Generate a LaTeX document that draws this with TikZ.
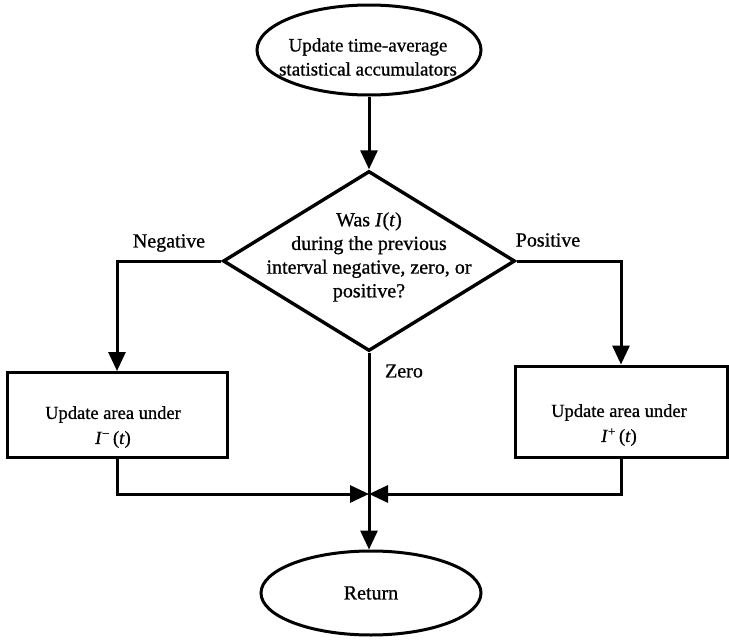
\documentclass[tikz,border=0pt]{standalone}
\usepackage{fontspec}
\setmainfont[FakeBold=0.8]{Liberation Serif}
\usetikzlibrary{shapes.geometric,arrows.meta}

\begin{document}
\begin{tikzpicture}[x=1pt,y=-1pt,
  every node/.style={font=\fontsize{20}{23.7}\selectfont},
  flow/.style={line width=3pt,-{Triangle[length=19pt,width=17pt]}},
  terminal/.style={draw,ellipse,line width=3pt,inner sep=0pt},
  decision/.style={draw,diamond,line width=3.4pt,inner sep=0pt,
                   minimum width=292pt,minimum height=180pt},
  process/.style={draw,rectangle,line width=3pt,inner sep=0pt},
  boxtext/.style={align=center,font=\fontsize{18.5}{25}\selectfont},
  branch/.style={inner sep=0pt}
]
\useasboundingbox (0,0) rectangle (729,640);

% start terminal
\node[terminal,minimum width=224pt,minimum height=90pt] (start) at (369,50) {};
\node[align=center,font=\fontsize{19}{24}\selectfont] (starttext) at (368,57)
  {Update time-average\\statistical accumulators};

% decision
\node[decision] (dec) at (369,261) {};
\node[align=center] (dectext) at (369,257)
  {Was \textit{I}(\textit{t})\\during the previous\\interval negative, zero, or\\positive?};

% process boxes
\node[process,minimum width=220pt,minimum height=85pt] (lbox) at (117,415) {};
\node[boxtext] (ltext) at (113,427) {Update area under\\\textit{I}\textsuperscript{−}\,(\textit{t})};
\node[process,minimum width=212pt,minimum height=91pt] (rbox) at (621,411.5) {};
\node[boxtext] (rtext) at (619,425) {Update area under\\\textit{I}\textsuperscript{+}\,(\textit{t})};

% return terminal
\node[terminal,minimum width=220pt,minimum height=84pt] (ret) at (371,593) {};
\node (rettext) at (ret.center) {Return};

% branch labels
\node[branch] (neg) at (169,243) {Negative};
\node[branch] (pos) at (548,240) {Positive};
\node[branch] (zero) at (404,371) {Zero};

\coordinate (merge) at (369,494);

% connectors
\draw[flow] (start.south) -- (dec.north);
\draw[flow] (dec.west) -| (lbox.north);
\draw[flow] (dec.east) -| (rbox.north);
\draw[flow] (dec.south) -- (dec.south |- ret.north);
\draw[flow] (lbox.south) |- (merge);
\draw[flow] (rbox.south) |- (merge);
\end{tikzpicture}
\end{document}
